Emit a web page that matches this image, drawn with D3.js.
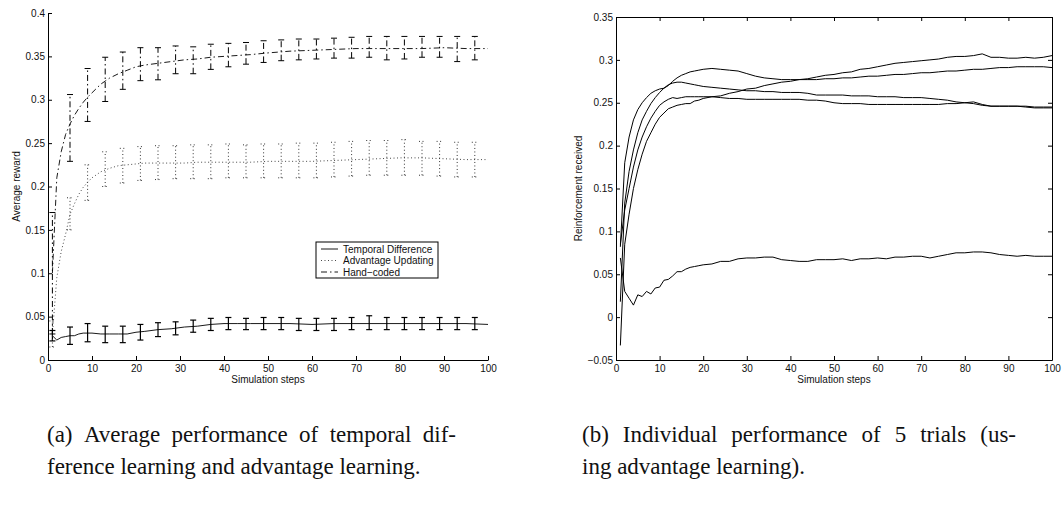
<!DOCTYPE html>
<html>
<head>
<meta charset="utf-8">
<script src="https://cdn.jsdelivr.net/npm/d3@7"></script>
<style>
  body { margin: 0; background: #fff; }
  svg text { font-family: "Liberation Sans", Arial, sans-serif; fill: #111; }
</style>
</head>
<body>
<svg id="fig" width="1063" height="516"></svg>
<script>
// ---- left panel: average performance ----
const stepsA = [1,2,3,4,5,6,7,8,9,10,12,14,16,18,20,22,25,28,31,34,37,40,43,46,50,55,60,65,70,75,80,85,90,95,100];
const tdMean = [0.028,0.023,0.026,0.027,0.028,0.028,0.030,0.031,0.031,0.031,0.030,0.030,0.030,0.030,0.032,0.033,0.035,0.036,0.038,0.039,0.041,0.042,0.042,0.042,0.042,0.042,0.041,0.042,0.042,0.042,0.042,0.042,0.042,0.042,0.041];
const advMean = [0.030,0.095,0.125,0.145,0.168,0.180,0.191,0.199,0.205,0.210,0.217,0.221,0.224,0.225,0.226,0.227,0.227,0.227,0.227,0.228,0.228,0.228,0.228,0.228,0.229,0.229,0.229,0.230,0.231,0.232,0.233,0.233,0.232,0.231,0.231];
const handMean = [0.100,0.210,0.240,0.260,0.272,0.282,0.290,0.297,0.303,0.308,0.318,0.325,0.330,0.334,0.338,0.340,0.342,0.344,0.346,0.347,0.349,0.350,0.351,0.352,0.354,0.356,0.357,0.358,0.359,0.359,0.359,0.359,0.360,0.359,0.359];

const errSteps = [1,5,9,13,17,21,25,29,33,37,41,45,49,53,57,61,65,69,73,77,81,85,89,93,97];
const tdHi = [0.034,0.038,0.042,0.039,0.039,0.041,0.043,0.044,0.046,0.048,0.049,0.048,0.049,0.049,0.048,0.048,0.048,0.049,0.051,0.049,0.049,0.049,0.049,0.049,0.049];
const tdLo = [0.022,0.018,0.021,0.020,0.020,0.023,0.027,0.029,0.032,0.034,0.035,0.035,0.035,0.035,0.034,0.034,0.034,0.035,0.035,0.035,0.035,0.035,0.035,0.035,0.035];
const advHi = [0.045,0.187,0.225,0.240,0.244,0.246,0.247,0.247,0.248,0.248,0.249,0.248,0.249,0.249,0.250,0.250,0.251,0.252,0.253,0.253,0.254,0.252,0.252,0.251,0.251];
const advLo = [0.015,0.150,0.184,0.200,0.204,0.207,0.208,0.209,0.209,0.209,0.210,0.210,0.210,0.210,0.210,0.210,0.211,0.212,0.213,0.213,0.213,0.213,0.212,0.211,0.211];
const handHi = [0.170,0.306,0.336,0.349,0.355,0.360,0.360,0.362,0.361,0.364,0.365,0.366,0.368,0.369,0.370,0.370,0.371,0.372,0.373,0.373,0.373,0.373,0.373,0.373,0.373];
const handLo = [0.030,0.229,0.275,0.298,0.312,0.322,0.323,0.330,0.330,0.335,0.338,0.341,0.343,0.345,0.346,0.347,0.348,0.348,0.349,0.346,0.347,0.349,0.349,0.344,0.346];

const legendNames = ["Temporal Difference", "Advantage Updating", "Hand\u2212coded"];

// ---- right panel: 5 individual trials ----
const stepsB = [1,2,3,4,5,6,7,8,9,10,11,12,13,14,15,16,17,18,19,20,22,24,26,28,30,32,34,36,38,40,42,44,46,48,50,52,54,56,58,60,62,64,66,68,70,72,74,76,78,80,82,84,86,88,90,92,94,96,98,100];
const trial1 = [0.082,0.180,0.210,0.230,0.242,0.250,0.256,0.261,0.264,0.266,0.267,0.270,0.275,0.279,0.282,0.284,0.286,0.287,0.288,0.289,0.290,0.289,0.288,0.287,0.284,0.281,0.279,0.278,0.277,0.277,0.277,0.277,0.277,0.278,0.278,0.279,0.279,0.280,0.281,0.281,0.282,0.283,0.283,0.284,0.285,0.285,0.286,0.287,0.287,0.288,0.289,0.289,0.290,0.291,0.291,0.292,0.292,0.292,0.292,0.291];
const trial2 = [0.018,0.133,0.170,0.195,0.215,0.230,0.240,0.249,0.256,0.262,0.267,0.271,0.273,0.274,0.274,0.273,0.272,0.271,0.270,0.269,0.268,0.267,0.266,0.265,0.264,0.264,0.263,0.263,0.262,0.262,0.262,0.261,0.259,0.259,0.259,0.259,0.258,0.258,0.258,0.257,0.257,0.257,0.256,0.256,0.256,0.255,0.254,0.253,0.251,0.250,0.249,0.247,0.246,0.246,0.246,0.246,0.246,0.245,0.245,0.245];
const trial3 = [-0.033,0.085,0.120,0.150,0.172,0.190,0.205,0.215,0.225,0.233,0.238,0.243,0.245,0.247,0.248,0.249,0.249,0.252,0.253,0.255,0.257,0.258,0.261,0.263,0.266,0.267,0.270,0.272,0.274,0.275,0.277,0.278,0.280,0.282,0.283,0.285,0.286,0.289,0.290,0.292,0.294,0.296,0.297,0.298,0.299,0.300,0.301,0.303,0.304,0.304,0.305,0.307,0.303,0.303,0.302,0.302,0.303,0.302,0.303,0.305];
const trial4 = [0.085,0.125,0.150,0.175,0.195,0.210,0.222,0.232,0.240,0.247,0.251,0.254,0.256,0.255,0.256,0.257,0.257,0.257,0.257,0.257,0.257,0.256,0.255,0.255,0.254,0.254,0.254,0.254,0.254,0.254,0.254,0.253,0.253,0.252,0.250,0.249,0.249,0.249,0.248,0.248,0.248,0.248,0.248,0.248,0.248,0.248,0.248,0.249,0.249,0.250,0.251,0.248,0.246,0.246,0.246,0.246,0.245,0.244,0.244,0.244];
const trial5 = [0.069,0.030,0.022,0.014,0.026,0.024,0.030,0.027,0.034,0.035,0.043,0.044,0.048,0.053,0.053,0.056,0.058,0.059,0.060,0.061,0.062,0.065,0.065,0.068,0.069,0.069,0.070,0.070,0.067,0.066,0.065,0.065,0.067,0.067,0.067,0.068,0.066,0.068,0.068,0.069,0.068,0.070,0.070,0.071,0.071,0.069,0.071,0.073,0.075,0.075,0.076,0.076,0.075,0.073,0.072,0.071,0.072,0.071,0.071,0.071];

const xTicks = [0,10,20,30,40,50,60,70,80,90,100];
const yTicksA = [0,0.05,0.1,0.15,0.2,0.25,0.3,0.35,0.4];
const yTicksB = [-0.05,0,0.05,0.1,0.15,0.2,0.25,0.3,0.35];

const captionA = ["(a) Average performance of temporal dif-", "ference learning and advantage learning."];
const captionB = ["(b) Individual performance of 5 trials (us-", "ing advantage learning)."];

const svg = d3.select("#fig");
const fmt = d3.format("~g");

// dash patterns for the three methods
const dashes = [null, "1,2.5", "6,3,1.5,3"];
const strokes = ["#000", "#333", "#000"];

function axes(g, x, y, yTicks, boxed) {
  g.append("g")
      .attr("transform", "translate(0," + y.range()[0] + ")")
      .call(d3.axisBottom(x).tickValues(xTicks).tickFormat(fmt).tickSize(-4).tickSizeOuter(0).tickPadding(5));
  g.append("g")
      .attr("transform", "translate(" + x.range()[0] + ",0)")
      .call(d3.axisLeft(y).tickValues(yTicks).tickFormat(fmt).tickSize(-4).tickSizeOuter(0).tickPadding(3));
  if (boxed) {
    g.append("g")
        .attr("transform", "translate(0," + y.range()[1] + ")")
        .call(d3.axisTop(x).tickValues(xTicks).tickFormat("").tickSize(-4).tickSizeOuter(0));
    g.append("g")
        .attr("transform", "translate(" + x.range()[1] + ",0)")
        .call(d3.axisRight(y).tickValues(yTicks).tickFormat("").tickSize(-4).tickSizeOuter(0));
  }
  g.selectAll(".domain, .tick line").attr("stroke", "#000").attr("stroke-width", 1);
  g.selectAll(".tick text").attr("font-size", 10).attr("fill", "#111")
      .style("font-family", "'Liberation Sans', Arial, sans-serif");
}

// ---------- left chart ----------
const xL = d3.scaleLinear().domain([0, 100]).range([48, 488]);
const yL = d3.scaleLinear().domain([0, 0.4]).range([360, 13]);
const gL = svg.append("g");

const meansA = [tdMean, advMean, handMean];
const his = [tdHi, advHi, handHi];
const los = [tdLo, advLo, handLo];

const lineL = d3.line().x(d => xL(d[0])).y(d => yL(d[1]));

meansA.forEach((m, k) => {
  gL.append("path")
      .attr("d", lineL(stepsA.map((s, i) => [s, m[i]])))
      .attr("fill", "none")
      .attr("stroke", strokes[k])
      .attr("stroke-width", 0.9)
      .attr("stroke-dasharray", dashes[k]);

  // error bars
  const eb = gL.append("g")
      .attr("fill", "none")
      .attr("stroke", strokes[k])
      .attr("stroke-width", k == 0 ? 1.2 : 1)
      .attr("stroke-dasharray", dashes[k]);
  errSteps.forEach((s, i) => {
    const cx = xL(s);
    eb.append("line").attr("x1", cx).attr("x2", cx).attr("y1", yL(los[k][i])).attr("y2", yL(his[k][i]));
    eb.append("line").attr("x1", cx - 3).attr("x2", cx + 3).attr("y1", yL(los[k][i])).attr("y2", yL(los[k][i]));
    eb.append("line").attr("x1", cx - 3).attr("x2", cx + 3).attr("y1", yL(his[k][i])).attr("y2", yL(his[k][i]));
  });
});

axes(gL, xL, yL, yTicksA, false);

gL.append("text")
    .attr("x", (xL.range()[0] + xL.range()[1]) / 2)
    .attr("y", 383)
    .attr("text-anchor", "middle")
    .attr("font-size", 10)
    .text("Simulation steps");
gL.append("text")
    .attr("transform", "translate(20," + (yL.range()[0] + yL.range()[1]) / 2 + ") rotate(-90)")
    .attr("text-anchor", "middle")
    .attr("font-size", 10)
    .text("Average reward");

// legend
const lg = gL.append("g").attr("transform", "translate(316,242)");
lg.append("rect").attr("width", 122).attr("height", 36)
    .attr("fill", "#fff").attr("stroke", "#000").attr("stroke-width", 1);
legendNames.forEach((name, k) => {
  const ly = 7 + k * 11.5;
  lg.append("line").attr("x1", 5).attr("x2", 22).attr("y1", ly).attr("y2", ly)
      .attr("stroke", strokes[k]).attr("stroke-width", 0.9).attr("stroke-dasharray", dashes[k]);
  lg.append("text").attr("x", 27).attr("y", ly).attr("dy", "0.35em")
      .attr("font-size", 10).text(name);
});

// ---------- right chart ----------
const xR = d3.scaleLinear().domain([0, 100]).range([616, 1052]);
const yR = d3.scaleLinear().domain([-0.05, 0.35]).range([360, 17]);
const gR = svg.append("g");
const lineR = d3.line().x(d => xR(d[0])).y(d => yR(d[1]));

[trial1, trial2, trial3, trial4, trial5].forEach(t => {
  gR.append("path")
      .attr("d", lineR(stepsB.map((s, i) => [s, t[i]])))
      .attr("fill", "none")
      .attr("stroke", "#000")
      .attr("stroke-width", 1);
});

axes(gR, xR, yR, yTicksB, true);

gR.append("text")
    .attr("x", (xR.range()[0] + xR.range()[1]) / 2)
    .attr("y", 383)
    .attr("text-anchor", "middle")
    .attr("font-size", 10)
    .text("Simulation steps");
gR.append("text")
    .attr("transform", "translate(582," + (yR.range()[0] + yR.range()[1]) / 2 + ") rotate(-90)")
    .attr("text-anchor", "middle")
    .attr("font-size", 10)
    .text("Reinforcement received");

// ---------- captions ----------
// first line justified to a width, second line left
function caption(lines, x0, width) {
  const g = svg.append("g");
  lines.forEach((ln, li) => {
    const t = g.append("text")
        .attr("y", 442 + li * 32)
        .attr("font-size", 23)
        .style("font-family", "'Liberation Serif', 'Times New Roman', serif")
        .attr("fill", "#000");
    const words = ln.split(" ");
    const spans = words.map(w => t.append("tspan").text(w));
    const widths = spans.map(s => s.node().getComputedTextLength());
    const total = d3.sum(widths);
    const gap = li == 0 ? (width - total) / (words.length - 1) : 5.75;
    let x = x0;
    spans.forEach((s, i) => { s.attr("x", x); x += widths[i] + gap; });
  });
}
caption(captionA, 47, 409);
caption(captionB, 582, 434);
</script>
</body>
</html>
